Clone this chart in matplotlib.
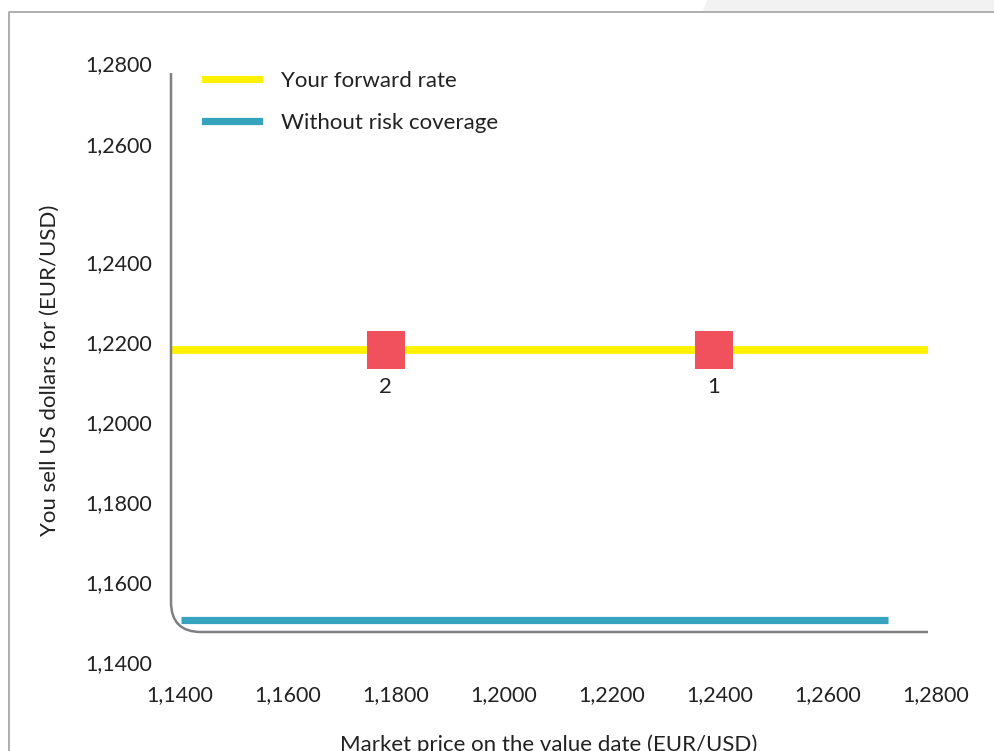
import matplotlib
matplotlib.use("Agg")
import matplotlib.pyplot as plt
from matplotlib.path import Path
from matplotlib.patches import PathPatch, Polygon
from matplotlib.lines import Line2D
from matplotlib.transforms import IdentityTransform

# ---------------- data ----------------
forward_x = [1.1383, 1.2785]
forward_y = [1.218, 1.218]
uncovered_x = [1.1402, 1.2711]
uncovered_y = [1.1505, 1.1505]
marker_x = [1.2389, 1.1781]
marker_y = [1.218, 1.218]
marker_labels = ["1", "2"]
x_ticks = [1.14, 1.16, 1.18, 1.20, 1.22, 1.24, 1.26, 1.28]
x_tick_labels = ["1,1400", "1,1600", "1,1800", "1,2000", "1,2200", "1,2400", "1,2600", "1,2800"]
y_tick_labels = ["1,1400", "1,1600", "1,1800", "1,2000", "1,2200", "1,2400", "1,2600", "1,2800"]
# the reference axis is stretched above 1,2400 -> label positions as drawn
y_tick_pos = [1.14, 1.16, 1.18, 1.20, 1.22, 1.24, 1.2695, 1.2898]
series_names = ["Your forward rate", "Without risk coverage"]
colors = {"forward": "#FFF200", "uncovered": "#35A3BD", "marker": "#F0515D"}

W, H = 995, 751
plt.rcParams['font.family'] = ['Lato', 'DejaVu Sans']
fig = plt.figure(figsize=(W / 100, H / 100), dpi=100)
fig.patch.set_facecolor("white")

# axes pixel box (top-down pixel coords)
ax_l, ax_r, ax_t, ax_b = 171, 940, 60, 666
aw, ah = ax_r - ax_l, ax_b - ax_t
ax = fig.add_axes([ax_l / W, 1 - ax_b / H, aw / W, ah / H])
ax.set_facecolor("none")

# scales: x 1.14 at px 180, 108 px per 0.02 ; y 1.14 at px 662, 80 px per 0.02
xppu = 108 / 0.02
yppu = 80 / 0.02
ax.set_xlim(1.14 - (180 - ax_l) / xppu, 1.14 + (ax_r - 180) / xppu)
ax.set_ylim(1.14 - (ax_b - 662) / yppu, 1.14 + (662 - ax_t) / yppu)

for s in ax.spines.values():
    s.set_visible(False)

TXT = "#222222"
ax.plot(uncovered_x, uncovered_y, color=colors["uncovered"], lw=5.2, solid_capstyle="butt", zorder=3)
ax.plot(forward_x, forward_y, color=colors["forward"], lw=5.6, solid_capstyle="butt", zorder=3)
ax.plot(marker_x, marker_y, linestyle="none", marker="s", markersize=27.5,
        markerfacecolor=colors["marker"], markeredgewidth=0, zorder=4)
for mx, my, lab in zip(marker_x, marker_y, marker_labels):
    ax.annotate(lab, (mx, my), xytext=(0, -37), textcoords="offset pixels",
                ha="center", va="center", fontsize=16, color=TXT)

ax.set_xticks(x_ticks)
ax.set_xticklabels(x_tick_labels)
ax.set_yticks(y_tick_pos)
ax.set_yticklabels(y_tick_labels)
ax.tick_params(axis="both", length=0, labelsize=15.5, labelcolor=TXT)
ax.tick_params(axis="x", pad=13.5)
ax.tick_params(axis="y", pad=13.5)

ax.set_xlabel("Market price on the value date (EUR/USD)", fontsize=16, color=TXT)
ax.xaxis.set_label_coords((549 - ax_l) / aw, 1 - (745 - ax_t) / ah)
ax.xaxis.label.set_va("center")
ax.set_ylabel("You sell US dollars for (EUR/USD)", fontsize=16, color=TXT)
ax.yaxis.set_label_coords((60 - ax_l) / aw, 1 - (370 - ax_t) / ah)

handles = [Line2D([], [], color=colors["forward"], lw=5.2),
           Line2D([], [], color=colors["uncovered"], lw=5.2)]
leg = ax.legend(handles, series_names, loc="upper left", frameon=False, fontsize=16,
                bbox_to_anchor=((205 - ax_l) / aw, 1 - (71 - ax_t) / ah),
                handlelength=2.45, handletextpad=0.95, labelspacing=0.97, borderpad=0, borderaxespad=0)
for t in leg.get_texts():
    t.set_color(TXT)

# rounded L-shaped axis line (display pixel coords, origin bottom-left)
def P(x, y):
    return (x, H - y)

r = 30
verts = [P(171, 73), P(171, 632 - r), P(171, 632), P(171 + r, 632), P(928, 632)]
codes = [Path.MOVETO, Path.LINETO, Path.CURVE3, Path.CURVE3, Path.LINETO]
fig.patches.append(PathPatch(Path(verts, codes), transform=IdentityTransform(),
                             fill=False, edgecolor="#808084", lw=1.8, figure=fig))

# page frame and the light grey tab top right
fig.patches.append(Polygon([P(703, 11), P(707, 0), P(W, 0), P(W, 11)], closed=True,
                           transform=IdentityTransform(), facecolor="#F2F2F2",
                           edgecolor="none", figure=fig))
fig.lines.append(Line2D([8.5, 8.5, W], [0, H - 12, H - 12], transform=IdentityTransform(),
                        color="#A8A8A8", lw=1.3, figure=fig))

fig.savefig("out.png", dpi=100)
